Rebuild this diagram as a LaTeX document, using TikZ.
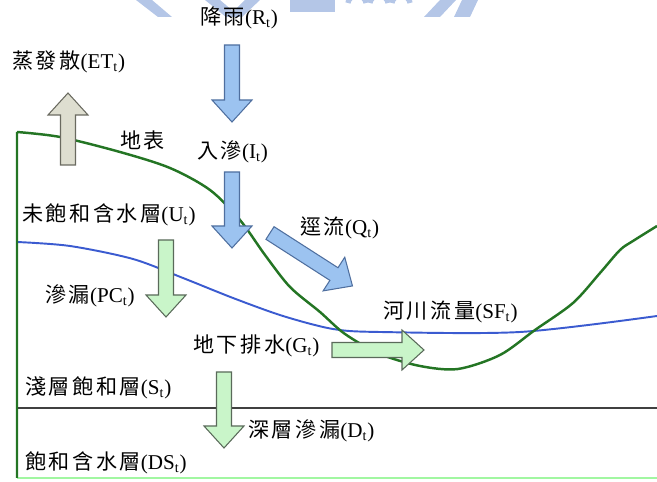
\documentclass[tikz,border=0pt]{standalone}
\usepackage{fontspec}
\setmainfont{Liberation Serif}
\newfontfamily\cjk[LetterSpace=12]{Noto Sans CJK TC}
\usetikzlibrary{positioning}

\definecolor{groundgreen}{HTML}{247524}
\definecolor{tableblue}{HTML}{3B5BD0}
\definecolor{rainfill}{HTML}{9CC3F0}
\definecolor{rainedge}{HTML}{4F6F9F}
\definecolor{soilfill}{HTML}{C9F5C9}
\definecolor{soiledge}{HTML}{5A6A5A}
\definecolor{vapfill}{HTML}{DEDED0}
\definecolor{vapedge}{HTML}{6A6A60}
\definecolor{wmblue}{HTML}{B4C6E7}

% label text: chinese name + (symbol_t)
\newcommand{\flux}[2]{{\cjk #1}(#2\textsubscript{t})}

% block arrow: style, tail, angle, length
\newcommand{\blockarrow}[4]{%
  \draw[#1, shift={#2}, rotate=#3] (0,-7.5) -- ({#4-22},-7.5) -- ({#4-22},-20)
    -- (#4,0) -- ({#4-22},20) -- ({#4-22},7.5) -- (0,7.5) -- cycle;}

\begin{document}
\begin{tikzpicture}[x=0.02cm, y=-0.02cm,
    every node/.style={font={\fontsize{12pt}{14pt}\selectfont}, inner sep=0pt, anchor=west},
    rainarrow/.style={fill=rainfill, draw=rainedge, line width=0.6pt},
    soilarrow/.style={fill=soilfill, draw=soiledge, line width=0.6pt},
    vaparrow/.style={fill=vapfill, draw=vapedge, line width=0.6pt},
    wm/.style={fill=wmblue}]
    \useasboundingbox (0,0) rectangle (657,482);

    % watermark bits at the top edge
    \fill[wm] (136,0) -- (152,0) -- (172,17) -- (158,17) -- cycle;
    \fill[wm] (205,0) -- (220,0) -- (240,17) -- (226,17) -- cycle;
    \fill[wm] (245,0) -- (260,0) -- (242,17) -- (228,17) -- cycle;
    \fill[wm] (290,0) rectangle (335,12);
    \draw[wmblue, line width=3pt] (348,3) arc (180:360:9 and 7);
    \draw[wmblue, line width=3pt] (370,3) arc (180:360:9 and 7);
    \draw[wmblue, line width=3pt] (392,3) arc (180:360:9 and 7);
    \fill[wm] (440,0) -- (456,0) -- (440,17) -- (424,17) -- cycle;
    \fill[wm] (462,0) -- (478,0) -- (470,17) -- (454,17) -- cycle;

    % soil layers
    \draw[soilfill!80!green, line width=1.2pt] (17,478) -- (657,478);
    \draw[black!75, line width=1pt] (17,408) -- (657,408);
    \draw[tableblue, line width=1.1pt] plot[smooth] coordinates {(17,242) (70,246) (133,259)
        (183,278) (233,298) (283,316) (333,329) (380,332) (520,332) (657,316)};
    \draw[groundgreen, line width=1.4pt] (17,478) -- (17,132) plot[smooth] coordinates {(17,132)
        (60,137) (120,152) (170,168) (210,190) (240,220) (265,255) (290,287) (320,312)
        (345,334) (380,354) (420,366) (458,369) (500,355) (535,330) (573,303) (600,273)
        (620,250) (633,241) (657,226)};

    % flows
    \blockarrow{vaparrow}{(68,165)}{90}{72}
    \blockarrow{rainarrow}{(232,45)}{-90}{77}
    \blockarrow{rainarrow}{(232,172)}{-90}{76}
    \blockarrow{rainarrow}{(270,233)}{-32.7}{98}
    \blockarrow{soilarrow}{(166,240)}{-90}{77}
    \blockarrow{soilarrow}{(332,350)}{0}{92}
    \blockarrow{soilarrow}{(224,372)}{-90}{76}

    % labels
    \node (rain) at (200,18) {\flux{降雨}{R}};
    \node (evap) at (12,62) {\flux{蒸發散}{ET}};
    \node (surf) at (120,140) {\cjk 地表};
    \node (infil) at (197,152) {\flux{入滲}{I}};
    \node (unsat) at (22,215) {\flux{未飽和含水層}{U}};
    \node (runoff) at (300,228) {\flux{逕流}{Q}};
    \node (perc) at (45,296) {\flux{滲漏}{PC}};
    \node (river) at (383,312) {\flux{河川流量}{SF}};
    \node (drain) at (193,346) {\flux{地下排水}{G}};
    \node (shallow) at (25,388) {\flux{淺層飽和層}{S}};
    \node (deep) at (248,431) {\flux{深層滲漏}{D}};
    \node (sat) at (25,463) {\flux{飽和含水層}{DS}};
\end{tikzpicture}
\end{document}
